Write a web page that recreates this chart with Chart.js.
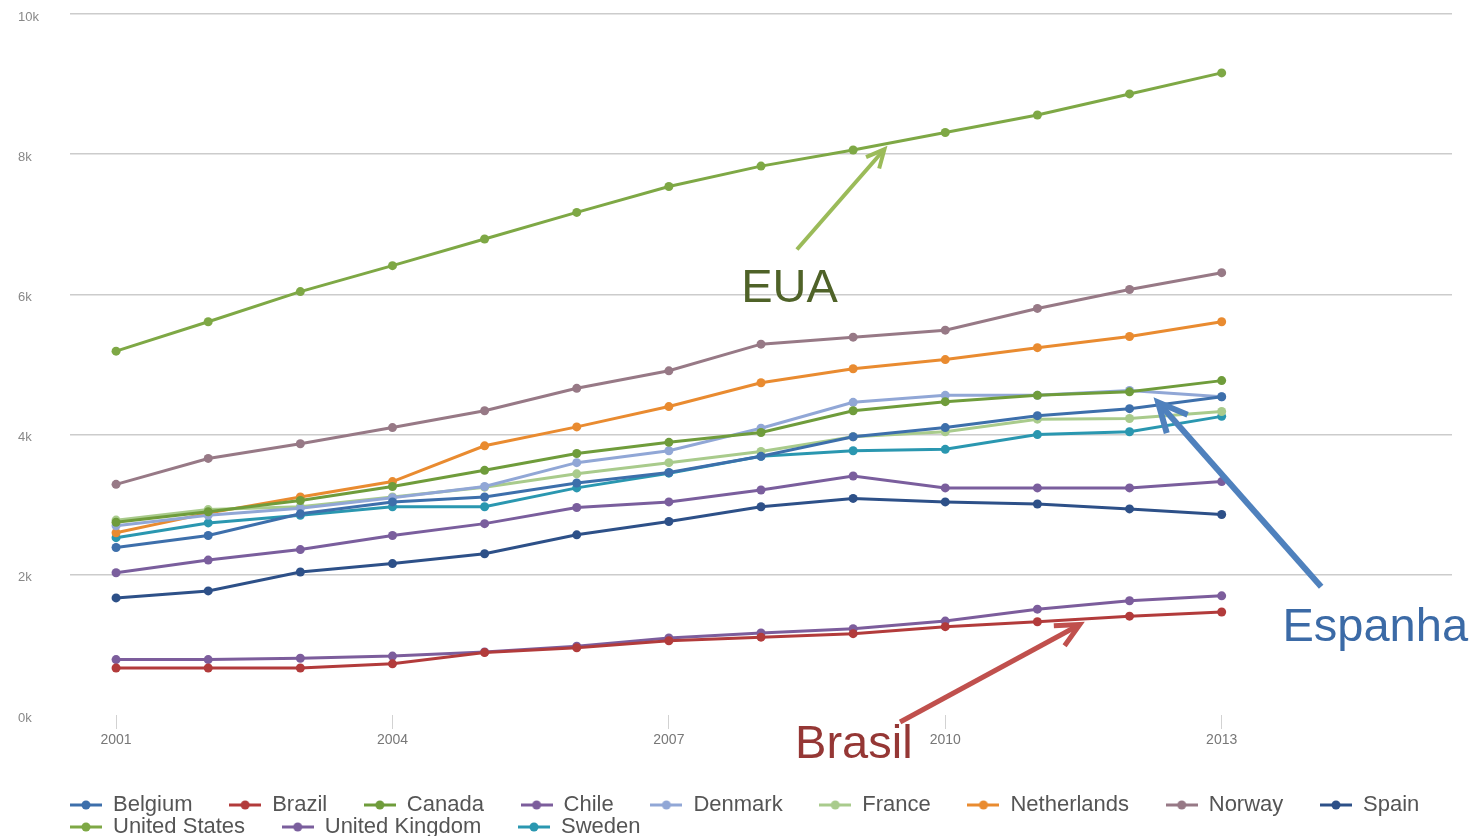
<!DOCTYPE html>
<html>
<head>
<meta charset="utf-8">
<script src="https://cdn.jsdelivr.net/npm/chart.js@4"></script>
<style>
  html, body { margin: 0; padding: 0; background: #fff; }
  #wrap { width: 1476px; height: 836px; }
</style>
</head>
<body>
<div id="wrap"><canvas id="myChart" width="1476" height="836"></canvas></div>
<script>
const years = [2001, 2002, 2003, 2004, 2005, 2006, 2007, 2008, 2009, 2010, 2011, 2012, 2013];
const tickYears = [2001, 2004, 2007, 2010, 2013];
const yTicks = [0, 2000, 4000, 6000, 8000, 10000];

const belgium = [2390, 2560, 2870, 3040, 3110, 3310, 3460, 3690, 3970, 4100, 4270, 4370, 4540];
const brazil = [670, 670, 670, 730, 890, 960, 1060, 1110, 1160, 1260, 1330, 1410, 1470];
const canada = [2750, 2900, 3060, 3260, 3490, 3730, 3890, 4030, 4340, 4470, 4560, 4610, 4770];
const chile = [790, 790, 810, 840, 900, 980, 1100, 1170, 1230, 1340, 1510, 1630, 1700];
const denmark = [2700, 2850, 2950, 3100, 3260, 3600, 3770, 4090, 4460, 4560, 4560, 4630, 4540];
const france = [2780, 2930, 2970, 3110, 3250, 3440, 3600, 3760, 3970, 4040, 4220, 4230, 4330];
const netherlands = [2600, 2880, 3110, 3330, 3840, 4110, 4400, 4740, 4940, 5070, 5240, 5400, 5610];
const norway = [3290, 3660, 3870, 4100, 4340, 4660, 4910, 5290, 5390, 5490, 5800, 6070, 6310];
const spain = [1670, 1770, 2040, 2160, 2300, 2570, 2760, 2970, 3090, 3040, 3010, 2940, 2860];
const unitedStates = [5190, 5610, 6040, 6410, 6790, 7170, 7540, 7830, 8060, 8310, 8560, 8860, 9160];
const unitedKingdom = [2030, 2210, 2360, 2560, 2730, 2960, 3040, 3210, 3410, 3240, 3240, 3240, 3330];
const sweden = [2530, 2740, 2850, 2970, 2970, 3240, 3450, 3690, 3770, 3790, 4000, 4040, 4260];

const series = [
    { label: 'Belgium', values: belgium, color: '#3d6fab' },
    { label: 'Brazil', values: brazil, color: '#b23b3b' },
    { label: 'Canada', values: canada, color: '#6f9c3b' },
    { label: 'Chile', values: chile, color: '#7c5d9c' },
    { label: 'Denmark', values: denmark, color: '#91a7d6' },
    { label: 'France', values: france, color: '#a9cb8c' },
    { label: 'Netherlands', values: netherlands, color: '#e98b30' },
    { label: 'Norway', values: norway, color: '#977986' },
    { label: 'Spain', values: spain, color: '#2d5088' },
    { label: 'United States', values: unitedStates, color: '#7ea845' },
    { label: 'United Kingdom', values: unitedKingdom, color: '#7a5e9d' },
    { label: 'Sweden', values: sweden, color: '#2a97b0' }
];

// callout texts and arrows, placed in data space
const notes = [
    { text: 'EUA', color: '#4f6228', x: 2008.31, y: 6070, align: 'center' },
    { text: 'Espanha', color: '#3b6aa6', x: 2013.66, y: 1240, align: 'left' },
    { text: 'Brasil', color: '#953735', x: 2008.37, y: -430, align: 'left' }
];
const arrows = [
    { from: [2008.39, 6640], to: [2009.34, 8070], color: '#9bbb59', width: 4, head: 20 },
    { from: [2014.08, 1830], to: [2012.31, 4460], color: '#4f81bd', width: 6, head: 32 },
    { from: [2009.51, -100], to: [2011.46, 1290], color: '#c0504d', width: 5, head: 26 }
];

function legendMarker(color) {
    const c = document.createElement('canvas');
    c.width = 32;
    c.height = 12;
    const ctx = c.getContext('2d');
    ctx.strokeStyle = color;
    ctx.lineWidth = 3;
    ctx.beginPath();
    ctx.moveTo(0, 6);
    ctx.lineTo(32, 6);
    ctx.stroke();
    ctx.fillStyle = color;
    ctx.beginPath();
    ctx.arc(16, 6, 4.5, 0, Math.PI * 2);
    ctx.fill();
    return c;
}

const calloutPlugin = {
    id: 'callouts',
    afterDraw(chart) {
        const ctx = chart.ctx;
        const xs = chart.scales.x;
        const ys = chart.scales.y;
        ctx.save();
        for (let a of arrows) {
            const x1 = xs.getPixelForValue(a.from[0]);
            const y1 = ys.getPixelForValue(a.from[1]);
            const x2 = xs.getPixelForValue(a.to[0]);
            const y2 = ys.getPixelForValue(a.to[1]);
            const ang = Math.atan2(y2 - y1, x2 - x1);
            ctx.strokeStyle = a.color;
            ctx.lineWidth = a.width;
            ctx.lineCap = 'butt';
            ctx.lineJoin = 'miter';
            ctx.beginPath();
            ctx.moveTo(x1, y1);
            ctx.lineTo(x2 - Math.cos(ang) * a.width, y2 - Math.sin(ang) * a.width);
            ctx.stroke();
            ctx.beginPath();
            ctx.moveTo(x2 - a.head * Math.cos(ang - 0.45), y2 - a.head * Math.sin(ang - 0.45));
            ctx.lineTo(x2, y2);
            ctx.lineTo(x2 - a.head * Math.cos(ang + 0.45), y2 - a.head * Math.sin(ang + 0.45));
            ctx.stroke();
        }
        ctx.font = '47px "Liberation Sans", Arial, sans-serif';
        ctx.textBaseline = 'middle';
        for (let n of notes) {
            ctx.fillStyle = n.color;
            ctx.textAlign = n.align;
            ctx.fillText(n.text, xs.getPixelForValue(n.x), ys.getPixelForValue(n.y));
        }
        ctx.restore();
    }
};

new Chart(document.getElementById('myChart'), {
    type: 'line',
    data: {
        datasets: series.map(s => ({
            label: s.label,
            data: s.values.map((v, i) => ({ x: years[i], y: v })),
            borderColor: s.color,
            backgroundColor: s.color,
            borderWidth: 3,
            pointRadius: 4.5,
            pointBorderWidth: 0,
            pointBackgroundColor: s.color,
            tension: 0
        }))
    },
    options: {
        responsive: false,
        animation: false,
        layout: {
            padding: { left: 18, right: 24, top: 14, bottom: -12 }
        },
        scales: {
            x: {
                type: 'linear',
                min: 2000.5,
                max: 2015.5,
                afterBuildTicks: (scale) => {
                    scale.ticks = tickYears.map(v => ({ value: v }));
                },
                afterFit: (scale) => {
                    scale.height = 79;
                },
                border: { display: false },
                grid: {
                    drawOnChartArea: false,
                    drawTicks: true,
                    tickLength: 14,
                    tickColor: '#d2d2d2',
                    lineWidth: 1
                },
                ticks: {
                    color: '#777',
                    padding: 3,
                    maxRotation: 0,
                    font: { family: '"Liberation Sans", Arial, sans-serif', size: 14 },
                    callback: (v) => String(v)
                }
            },
            y: {
                min: 0,
                max: 10000,
                afterBuildTicks: (scale) => {
                    scale.ticks = yTicks.map(v => ({ value: v }));
                },
                afterFit: (scale) => {
                    scale.width = 52;
                },
                border: { display: false },
                grid: {
                    drawTicks: false,
                    lineWidth: 1.5,
                    color: (c) => (c.tick && c.tick.value === 0 ? 'rgba(0,0,0,0)' : '#cccccc')
                },
                ticks: {
                    color: '#888',
                    crossAlign: 'far',
                    padding: 0,
                    labelOffset: 3,
                    font: { family: '"Liberation Sans", Arial, sans-serif', size: 13 },
                    callback: (v) => (v / 1000) + 'k'
                }
            }
        },
        plugins: {
            title: { display: false },
            tooltip: { enabled: false },
            legend: {
                position: 'bottom',
                align: 'start',
                fullSize: false,
                labels: {
                    color: '#555',
                    padding: 0,
                    usePointStyle: true,
                    pointStyleWidth: 32,
                    font: { family: '"Liberation Sans", Arial, sans-serif', size: 22 },
                    generateLabels: (chart) => {
                        const items = Chart.defaults.plugins.legend.labels.generateLabels(chart);
                        for (let item of items) {
                            const s = series[item.datasetIndex];
                            item.pointStyle = legendMarker(s.color);
                            item.text = s.label + (s.label === 'Spain' ? '' : '      ');
                        }
                        return items;
                    }
                }
            }
        }
    },
    plugins: [calloutPlugin]
});
</script>
</body>
</html>
